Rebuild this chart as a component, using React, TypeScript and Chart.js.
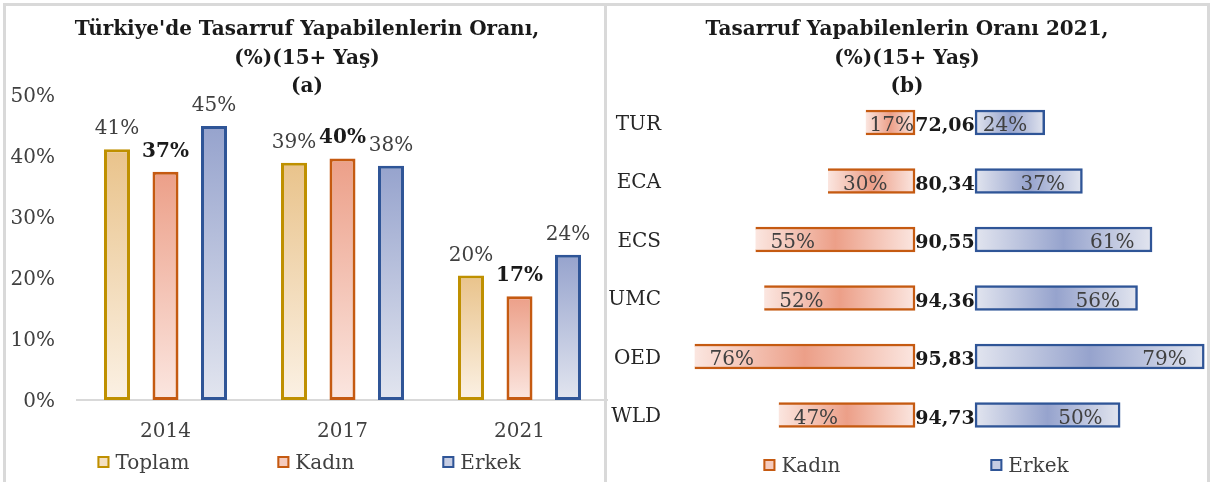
import React, { useEffect, useRef } from 'react';
import { Chart, registerables } from 'chart.js';

Chart.register(...registerables);

const FONT = "'DejaVu Serif', 'Liberation Serif', serif";

// ---- Panel (a) data ----
const years = ['2014', '2017', '2021'];
const toplamValues = [41.1, 38.9, 20.4];
const kadinValues = [37.4, 39.6, 17.0];
const erkekValues = [44.9, 38.4, 23.8];
const yTickValues = [0, 10, 20, 30, 40, 50];

// ---- Panel (b) data ----
const countries = ['TUR', 'ECA', 'ECS', 'UMC', 'OED', 'WLD'];
const kadin2021 = [17, 30, 55, 52, 76, 47];
const erkek2021 = [24, 37, 61, 56, 79, 50];
const centerValues = [72.06, 80.34, 90.55, 94.36, 95.83, 94.73];

const titleA = ["Türkiye'de Tasarruf Yapabilenlerin Oranı,", '(%)(15+ Yaş)', '(a)'];
const titleB = ['Tasarruf Yapabilenlerin Oranı 2021,', '(%)(15+ Yaş)', '(b)'];
const legendA = ['Toplam', 'Kadın', 'Erkek'];
const legendB = ['Kadın', 'Erkek'];

const COL = {
  toplam: { border: '#BF9000', dark: '#E9C38B', light: '#FBF1E4', legend: '#F4E0C2' },
  kadin: { border: '#C55A11', dark: '#EC9F88', light: '#FBE6E0', legend: '#F5CBBE' },
  erkek: { border: '#2F5597', dark: '#96A3CD', light: '#E2E5EF', legend: '#C6CDE3' },
};

const TEXT = '#404040';
const BOLD_TEXT = '#1a1a1a';
const GAP = 10.35; // half-width of the centre gap in (b), in % units

const vGrad = (dark: string, light: string) => (ctx: any) => {
  const chart = ctx.chart;
  if (ctx.type !== 'data' || !chart.chartArea) return dark;
  const ys = chart.scales.y;
  const top = ys.getPixelForValue(ctx.raw);
  const base = ys.getPixelForValue(0);
  const g = chart.ctx.createLinearGradient(0, top, 0, base);
  g.addColorStop(0, dark);
  g.addColorStop(1, light);
  return g;
};

const hGrad = (dark: string, light: string) => (ctx: any) => {
  const chart = ctx.chart;
  if (ctx.type !== 'data' || !chart.chartArea) return dark;
  const xs = chart.scales.x;
  const raw = ctx.raw as number[];
  const l = xs.getPixelForValue(raw[0]);
  const r = xs.getPixelForValue(raw[1]);
  const g = chart.ctx.createLinearGradient(l, 0, r, 0);
  g.addColorStop(0, light);
  g.addColorStop(0.5, dark);
  g.addColorStop(1, light);
  return g;
};

function makeLegendPlugin(items: { label: string; border: string; fill: string }[], centerX: number, y: number, gap: number) {
  return {
    id: 'customLegend',
    afterDraw(chart: any) {
      const ctx = chart.ctx;
      ctx.save();
      ctx.font = `20px ${FONT}`;
      const box = 12;
      const tg = 6;
      const widths = items.map((it) => box + tg + ctx.measureText(it.label).width);
      const total = widths.reduce((a, b) => a + b, 0) + gap * (items.length - 1);
      let x = centerX - total / 2;
      items.forEach((it, i) => {
        ctx.fillStyle = it.fill;
        ctx.fillRect(x, y - box / 2, box, box);
        ctx.strokeStyle = it.border;
        ctx.lineWidth = 2;
        ctx.strokeRect(x + 1, y - box / 2 + 1, box - 2, box - 2);
        ctx.fillStyle = TEXT;
        ctx.textAlign = 'left';
        ctx.textBaseline = 'alphabetic';
        ctx.fillText(it.label, x + box + tg, y + 7);
        x += widths[i] + gap;
      });
      ctx.restore();
    },
  };
}

const labelsPluginA = {
  id: 'barLabelsA',
  afterDatasetsDraw(chart: any) {
    const ctx = chart.ctx;
    ctx.save();
    ctx.textAlign = 'center';
    ctx.textBaseline = 'alphabetic';
    chart.data.datasets.forEach((ds: any, i: number) => {
      const bold = i === 1;
      ctx.font = `${bold ? 'bold ' : ''}20px ${FONT}`;
      ctx.fillStyle = bold ? BOLD_TEXT : TEXT;
      chart.getDatasetMeta(i).data.forEach((el: any, j: number) => {
        const v = ds.data[j] as number;
        ctx.fillText(`${Math.round(v)}%`, el.x, el.y - 15);
      });
    });
    ctx.restore();
  },
};

const labelsPluginB = {
  id: 'barLabelsB',
  afterDatasetsDraw(chart: any) {
    const ctx = chart.ctx;
    const xs = chart.scales.x;
    ctx.save();
    ctx.textBaseline = 'alphabetic';
    ctx.font = `20px ${FONT}`;
    ctx.fillStyle = TEXT;
    // Kadın labels (left side)
    chart.getDatasetMeta(0).data.forEach((el: any, j: number) => {
      const raw = chart.data.datasets[0].data[j] as number[];
      const l = xs.getPixelForValue(raw[0]);
      const r = xs.getPixelForValue(raw[1]);
      const t = `${kadin2021[j]}%`;
      const tw = ctx.measureText(t).width;
      let x = l + 15;
      if (x + tw > r - 1) x = r - 1 - tw;
      ctx.textAlign = 'left';
      ctx.fillText(t, x, el.y + 8.8);
    });
    // Erkek labels (right side)
    chart.getDatasetMeta(1).data.forEach((el: any, j: number) => {
      const raw = chart.data.datasets[1].data[j] as number[];
      const l = xs.getPixelForValue(raw[0]);
      const r = xs.getPixelForValue(raw[1]);
      const t = `${erkek2021[j]}%`;
      const tw = ctx.measureText(t).width;
      let x = r - 17.5;
      if (x - tw < l + 3) x = l + 3 + tw;
      ctx.textAlign = 'right';
      ctx.fillText(t, x, el.y + 8.8);
    });
    // centre values
    ctx.font = `bold 19px ${FONT}`;
    ctx.fillStyle = BOLD_TEXT;
    ctx.textAlign = 'center';
    const cx = xs.getPixelForValue(0);
    chart.getDatasetMeta(0).data.forEach((el: any, j: number) => {
      ctx.fillText(centerValues[j].toFixed(2).replace('.', ','), cx, el.y + 8.5);
    });
    ctx.restore();
  },
};

function ChartA() {
  const ref = useRef<HTMLCanvasElement>(null);
  useEffect(() => {
    const chart = new Chart(ref.current as HTMLCanvasElement, {
      type: 'bar',
      data: {
        labels: years,
        datasets: [
          { label: legendA[0], data: toplamValues, backgroundColor: vGrad(COL.toplam.dark, COL.toplam.light) as any, borderColor: COL.toplam.border, borderWidth: 3, borderSkipped: false },
          { label: legendA[1], data: kadinValues, backgroundColor: vGrad(COL.kadin.dark, COL.kadin.light) as any, borderColor: COL.kadin.border, borderWidth: 3, borderSkipped: false },
          { label: legendA[2], data: erkekValues, backgroundColor: vGrad(COL.erkek.dark, COL.erkek.light) as any, borderColor: COL.erkek.border, borderWidth: 3, borderSkipped: false },
        ],
      },
      options: {
        responsive: false,
        animation: false,
        events: [],
        layout: { padding: 0 },
        datasets: { bar: { barPercentage: 0.536, categoryPercentage: 0.822 } },
        plugins: {
          legend: { display: false },
          tooltip: { enabled: false },
          title: {
            display: true,
            text: titleA,
            color: BOLD_TEXT,
            font: { family: FONT, size: 20, weight: 'bold', lineHeight: 1.425 },
            padding: { top: 10, bottom: -6.5 },
          },
        },
        scales: {
          x: {
            grid: { display: false, drawTicks: false },
            border: { display: true, color: '#D9D9D9', width: 2 },
            ticks: { font: { family: FONT, size: 20 }, color: TEXT, padding: 20, maxRotation: 0, autoSkip: false },
            afterFit: (s: any) => { s.height = 82; },
          },
          y: {
            min: 0,
            max: 50,
            grid: { display: false, drawTicks: false },
            border: { display: false },
            afterBuildTicks: (s: any) => { s.ticks = yTickValues.map((v) => ({ value: v })); },
            ticks: { font: { family: FONT, size: 20 }, color: TEXT, padding: 22, labelOffset: 1.5, callback: (v: any) => `${v}%` },
            afterFit: (s: any) => { s.width = 71; },
          },
        },
      } as any,
      plugins: [
        labelsPluginA,
        makeLegendPlugin(
          [
            { label: legendA[0], border: COL.toplam.border, fill: COL.toplam.legend },
            { label: legendA[1], border: COL.kadin.border, fill: COL.kadin.legend },
            { label: legendA[2], border: COL.erkek.border, fill: COL.erkek.legend },
          ],
          303,
          456,
          88,
        ),
      ],
    });
    return () => chart.destroy();
  }, []);
  return <canvas ref={ref} width={602} height={476} style={{ position: 'absolute', left: 6, top: 6 }} />;
}

function ChartB() {
  const ref = useRef<HTMLCanvasElement>(null);
  useEffect(() => {
    const kadinBars = kadin2021.map((v) => [-(GAP + v), -GAP]);
    const erkekBars = erkek2021.map((v) => [GAP, GAP + v]);
    const chart = new Chart(ref.current as HTMLCanvasElement, {
      type: 'bar',
      data: {
        labels: countries,
        datasets: [
          { label: legendB[0], data: kadinBars as any, backgroundColor: hGrad(COL.kadin.dark, COL.kadin.light) as any, borderColor: COL.kadin.border, borderWidth: 2.5, borderSkipped: 'right', grouped: false, barThickness: 25 },
          { label: legendB[1], data: erkekBars as any, backgroundColor: hGrad(COL.erkek.dark, COL.erkek.light) as any, borderColor: COL.erkek.border, borderWidth: 2.5, borderSkipped: false, grouped: false, barThickness: 25 },
        ],
      },
      options: {
        indexAxis: 'y',
        responsive: false,
        animation: false,
        events: [],
        layout: { padding: { top: 0, bottom: 37.75, left: 0, right: 0 } },
        plugins: {
          legend: { display: false },
          tooltip: { enabled: false },
          title: {
            display: true,
            text: titleB,
            color: BOLD_TEXT,
            font: { family: FONT, size: 20, weight: 'bold', lineHeight: 1.425 },
            padding: { top: 10, bottom: -8.25 },
          },
        },
        scales: {
          x: { type: 'linear', min: -95.5, max: 90.3, display: false },
          y: {
            grid: { display: false, drawTicks: false },
            border: { display: false },
            ticks: { font: { family: FONT, size: 20 }, color: '#262626', padding: 7, labelOffset: 2 },
            afterFit: (s: any) => { s.width = 61; },
          },
        },
      } as any,
      plugins: [
        labelsPluginB,
        makeLegendPlugin(
          [
            { label: legendB[0], border: COL.kadin.border, fill: COL.kadin.legend },
            { label: legendB[1], border: COL.erkek.border, fill: COL.erkek.legend },
          ],
          309,
          459,
          150,
        ),
      ],
    });
    return () => chart.destroy();
  }, []);
  return <canvas ref={ref} width={600} height={476} style={{ position: 'absolute', left: 607, top: 6 }} />;
}

const line = (left: number, top: number, width: number, height: number) => (
  <div style={{ position: 'absolute', left, top, width, height, background: '#D9D9D9', zIndex: 2 }} />
);

export default function App() {
  return (
    <div style={{ position: 'relative', width: 1212, height: 482, background: '#ffffff', overflow: 'hidden' }}>
      <style>{'body{margin:0;background:#fff;}'}</style>
      <ChartA />
      <ChartB />
      {line(3, 3, 1207, 3)}
      {line(3, 3, 3, 479)}
      {line(1207, 3, 3, 479)}
      {line(604, 3, 3, 479)}
    </div>
  );
}
